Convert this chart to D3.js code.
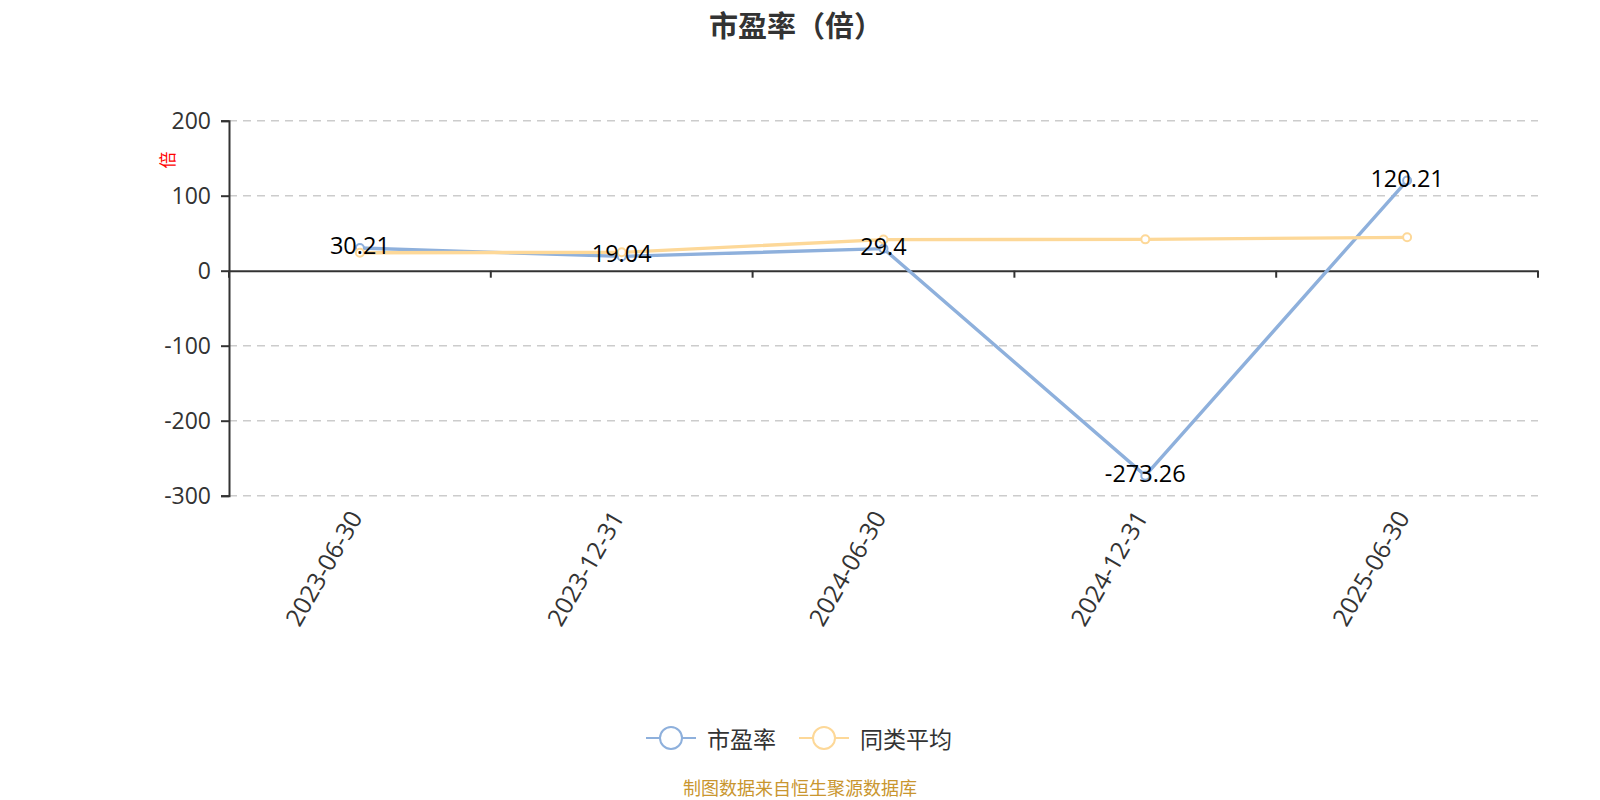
<!DOCTYPE html>
<html>
<head>
<meta charset="utf-8">
<script src="https://d3js.org/d3.v7.min.js"></script>
<style>
  body { margin: 0; background: #fff; }
  text { font-family: "Noto Sans CJK SC", "Noto Sans", sans-serif; }
  .num { font-family: "Open Sans", "Noto Sans CJK SC", sans-serif; }
</style>
</head>
<body>
<script>
const [width, height] = [1600, 800]

// data
const dates = ["2023-06-30", "2023-12-31", "2024-06-30", "2024-12-31", "2025-06-30"];
const peValues = [30.21, 19.04, 29.4, -273.26, 120.21];
const avgValues = [24, 24.5, 41.5, 41.8, 44.5];
const yTicks = [200, 100, 0, -100, -200, -300];
const seriesNames = ["市盈率", "同类平均"];
const colors = ["#8eb0dc", "#fdd898"];

const svg = d3.select("body").append("svg")
    .attr("width", width)
    .attr("height", height);

const x = d3.scaleBand().domain(dates).range([229, 1538]);
const y = d3.scaleLinear().domain([-300, 200]).range([495.7, 120.7]);
const cx = d => x(d) + x.bandwidth() / 2;

// title
svg.append("text")
    .attr("x", 796).attr("y", 24)
    .attr("text-anchor", "middle").attr("dominant-baseline", "central")
    .style("font-size", "29px").style("font-weight", "bold").style("fill", "#333")
    .text("市盈率（倍）");

// grid lines
svg.append("g").selectAll("line")
    .data(yTicks.filter(d => d !== 0))
    .enter().append("line")
    .attr("x1", 229).attr("x2", 1538)
    .attr("y1", d => y(d)).attr("y2", d => y(d))
    .style("stroke", "#ccc").style("stroke-width", 1.5)
    .style("stroke-dasharray", "8,6");

// y axis
const yAxis = svg.append("g")
    .attr("transform", "translate(229,0)")
    .call(d3.axisLeft(y).tickValues(yTicks).tickSize(8).tickPadding(10).tickFormat(d => String(d)));
yAxis.select(".domain").style("stroke", "#333").style("stroke-width", 2);
yAxis.selectAll(".tick line").style("stroke", "#333").style("stroke-width", 2);
yAxis.selectAll(".tick text")
    .attr("class", "num")
    .style("font-size", "23px").style("fill", "#333")
    .style("font-family", "'Open Sans', sans-serif");

// x axis on zero
const xAxis = svg.append("g")
    .attr("transform", `translate(0,${y(0)})`)
    .call(d3.axisBottom(x).tickSize(0).tickFormat(""));
xAxis.select(".domain").style("stroke", "#333").style("stroke-width", 2);
svg.append("g").selectAll("line")
    .data(d3.range(dates.length + 1))
    .enter().append("line")
    .attr("x1", i => 229 + i * x.step()).attr("x2", i => 229 + i * x.step())
    .attr("y1", y(0)).attr("y2", y(0) + 7)
    .style("stroke", "#333").style("stroke-width", 2);

// x labels at bottom, rotated
svg.append("g").selectAll("text")
    .data(dates)
    .enter().append("text")
    .attr("class", "num")
    .attr("transform", d => `translate(${cx(d) - 4},${513}) rotate(-60)`)
    .attr("text-anchor", "end").attr("dy", "0.35em")
    .style("font-size", "24.5px").style("fill", "#333")
    .text(d => d);

// y axis unit
svg.append("text")
    .attr("transform", "translate(166,160) rotate(-90)")
    .attr("text-anchor", "middle").attr("dominant-baseline", "central")
    .style("font-size", "17px").style("fill", "#ff0000")
    .text("倍");

// lines
const line = d3.line().x((d, i) => cx(dates[i])).y(d => y(d));
[peValues, avgValues].forEach((vals, k) => {
    svg.append("path")
        .datum(vals)
        .attr("d", line)
        .style("fill", "none").style("stroke", colors[k]).style("stroke-width", 3.4);
    svg.append("g").selectAll("circle")
        .data(vals)
        .enter().append("circle")
        .attr("cx", (d, i) => cx(dates[i])).attr("cy", d => y(d))
        .attr("r", 4)
        .style("fill", "#fff").style("stroke", colors[k]).style("stroke-width", 2);
});

// value labels
svg.append("g").selectAll("text")
    .data(peValues)
    .enter().append("text")
    .attr("class", "num")
    .attr("x", (d, i) => cx(dates[i])).attr("y", d => y(d) - 3)
    .attr("text-anchor", "middle").attr("dominant-baseline", "central")
    .style("font-size", "23.5px").style("fill", "#000")
    .text(d => d);

// legend
const legend = svg.append("g");
const legendItems = [
    { name: seriesNames[0], color: colors[0], x0: 646, tx: 707 },
    { name: seriesNames[1], color: colors[1], x0: 799, tx: 860 }
];
legendItems.forEach(it => {
    legend.append("line")
        .attr("x1", it.x0).attr("x2", it.x0 + 50)
        .attr("y1", 738).attr("y2", 738)
        .style("stroke", it.color).style("stroke-width", 2);
    legend.append("circle")
        .attr("cx", it.x0 + 25).attr("cy", 738).attr("r", 11)
        .style("fill", "#fff").style("stroke", it.color).style("stroke-width", 2);
    legend.append("text")
        .attr("x", it.tx).attr("y", 738)
        .attr("dominant-baseline", "central")
        .style("font-size", "23px").style("fill", "#333")
        .text(it.name);
});

// footer
svg.append("text")
    .attr("x", 800).attr("y", 787)
    .attr("text-anchor", "middle").attr("dominant-baseline", "central")
    .style("font-size", "18px").style("fill", "#c9962f")
    .text("制图数据来自恒生聚源数据库");
</script>
</body>
</html>
